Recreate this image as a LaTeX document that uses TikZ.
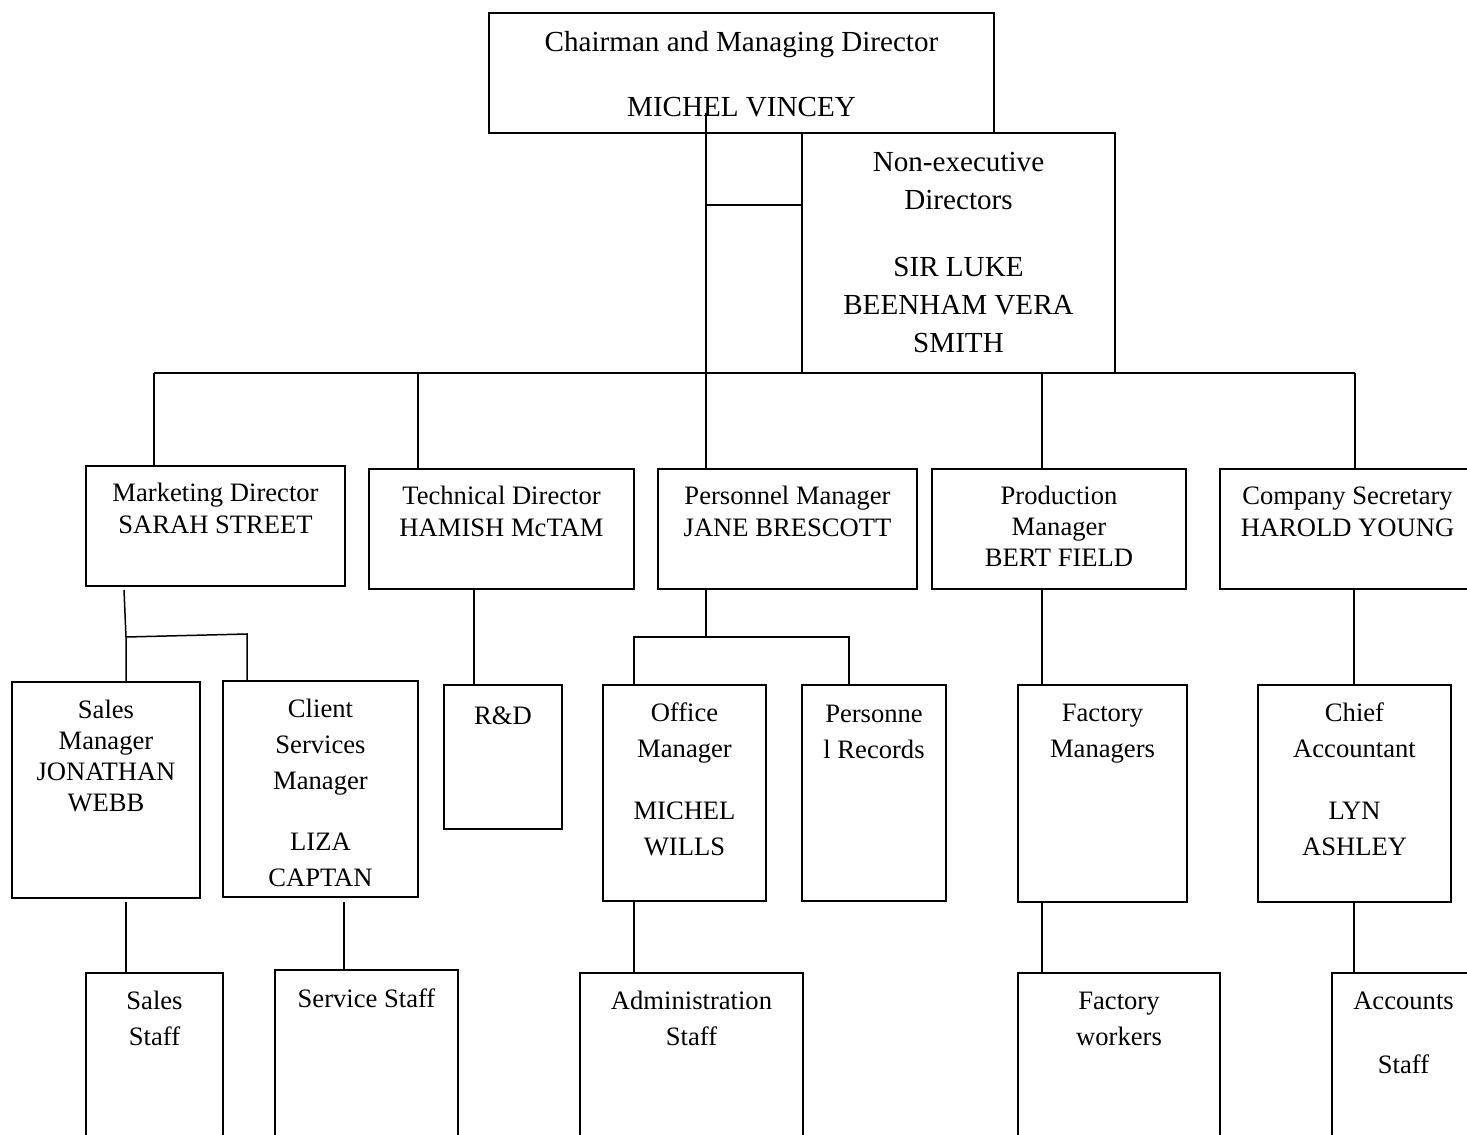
\documentclass[tikz,border=0pt]{standalone}
\usepackage{fontspec}
\setmainfont{Liberation Serif}
\usetikzlibrary{calc,positioning}
\tikzset{
  box/.style 2 args={draw,line width=1.5pt,minimum width=#1pt,minimum height=#2pt,inner sep=0pt},
  link/.style={line width=1.5pt},
  toptxt/.style={align=center,inner sep=0pt,anchor=north,font=\fontsize{29.1}{38}\selectfont},
  midtxt/.style={align=center,inner sep=0pt,anchor=north,font=\fontsize{26.6}{32}\selectfont},
  lowtxt/.style={align=center,inner sep=0pt,anchor=north,font=\fontsize{26.6}{36}\selectfont},
}
\begin{document}
\begin{tikzpicture}[x=1pt,y=-1pt]
  \useasboundingbox (0,0) rectangle (1467,1135);
  \clip (0,0) rectangle (1467,1135);

  % board
  \node[box={505}{120}] (ceo) at (741.5,73) {};
  \node[box={313}{240}] (ned) at (958.5,253) {};
  \node[toptxt] (ceo-t) at ($(ceo.north)+(0,19)$) {Chairman and Managing Director\\[27pt]MICHEL VINCEY};
  \node[toptxt] (ned-t) at ($(ned.north)+(0,20)$) {Non-executive\\Directors\\[29pt]SIR LUKE\\BEENHAM VERA\\SMITH};

  % directors and managers
  \node[box={259}{120}] (mkt) at (215.5,526) {};
  \node[box={265}{120}] (tech) at (501.5,529) {};
  \node[box={259}{120}] (pers) at (787.5,529) {};
  \node[box={254}{120}] (prod) at (1059,529) {};
  \node[box={255}{120}] (sec) at (1347.5,529) {};
  \node[midtxt] (mkt-t) at ($(mkt.north)+(0,18)$) {Marketing Director\\SARAH STREET};
  \node[midtxt] (tech-t) at ($(tech.north)+(0,18)$) {Technical Director\\HAMISH McTAM};
  \node[midtxt] (pers-t) at ($(pers.north)+(0,18)$) {Personnel Manager\\JANE BRESCOTT};
  \node[midtxt,font=\fontsize{26.6}{31}\selectfont] (prod-t) at ($(prod.north)+(0,18)$) {Production\\Manager\\BERT FIELD};
  \node[midtxt] (sec-t) at ($(sec.north)+(0,18)$) {Company Secretary\\HAROLD YOUNG};

  % departments
  \node[box={188}{216}] (salesmgr) at (106,790) {};
  \node[box={195}{216}] (client) at (320.5,789) {};
  \node[box={118}{144}] (rnd) at (503,757) {};
  \node[box={163}{216}] (office) at (684.5,793) {};
  \node[box={144}{216}] (records) at (874,793) {};
  \node[box={169}{217}] (factmgr) at (1102.5,793.5) {};
  \node[box={193}{217}] (chief) at (1354.5,793.5) {};
  \node[midtxt,font=\fontsize{26.6}{30.7}\selectfont] (salesmgr-t) at ($(salesmgr.north)+(0,19)$) {Sales\\Manager\\JONATHAN\\WEBB};
  \node[lowtxt] (client-t) at ($(client.north)+(0,19)$) {Client\\Services\\Manager\\[25pt]LIZA\\CAPTAN};
  \node[lowtxt] (rnd-t) at ($(rnd.north)+(0,22)$) {R\&D};
  \node[lowtxt] (office-t) at ($(office.north)+(0,18)$) {Office\\Manager\\[26pt]MICHEL\\WILLS};
  \node[lowtxt] (records-t) at ($(records.north)+(0,21)$) {Personne\\l Records};
  \node[lowtxt] (factmgr-t) at ($(factmgr.north)+(0,20)$) {Factory\\Managers};
  \node[lowtxt] (chief-t) at ($(chief.north)+(0,18)$) {Chief\\Accountant\\[26pt]LYN\\ASHLEY};

  % staff
  \node[box={137}{187}] (salesstaff) at (154.5,1066.5) {};
  \node[box={183}{190}] (svcstaff) at (366.5,1065) {};
  \node[box={223}{187}] (admin) at (691.5,1066.5) {};
  \node[box={202}{187}] (workers) at (1119,1066.5) {};
  \node[box={143}{187}] (accts) at (1403.5,1066.5) {};
  \node[lowtxt] (salesstaff-t) at ($(salesstaff.north)+(0,19)$) {Sales\\Staff};
  \node[lowtxt] (svcstaff-t) at ($(svcstaff.north)+(0,19)$) {Service Staff};
  \node[lowtxt] (admin-t) at ($(admin.north)+(0,19)$) {Administration\\Staff};
  \node[lowtxt] (workers-t) at ($(workers.north)+(0,20)$) {Factory\\workers};
  \node[lowtxt] (accts-t) at ($(accts.north)+(0,19)$) {Accounts\\[28pt]Staff};

  % connectors
  \coordinate (trunk) at (706,113);
  \coordinate (nedlink) at (706,205);
  \coordinate (busL) at (154,373);
  \coordinate (busR) at (1355,373);
  \draw[link] (trunk) -- (trunk |- pers.north);
  \draw[link] (nedlink) -- (nedlink -| ned.west);
  \draw[link] (busL) -- (busR);
  \foreach \x/\n in {154/mkt,418/tech,1042/prod,1355/sec}
    \draw[link] (\x,373) -- (\x,0 |- \n.north);

  \coordinate (mktdrop) at (124,590);
  \coordinate (mktfork) at (126,637);
  \coordinate (clientfork) at (247,634);
  \draw[link] (mktdrop) -- (mktfork) -- (mktfork |- salesmgr.north);
  \draw[link] (mktfork) -- (clientfork) -- (clientfork |- client.north);

  \coordinate (persfork) at (706,637);
  \coordinate (officefork) at (634,637);
  \coordinate (recordsfork) at (849,637);
  \draw[link] (persfork |- pers.south) -- (persfork);
  \draw[link] (officefork |- office.north) -- (officefork) -- (recordsfork) -- (recordsfork |- records.north);

  \draw[link] (474,0 |- tech.south) -- (474,0 |- rnd.north);
  \draw[link] (1042,0 |- prod.south) -- (1042,0 |- factmgr.north);
  \draw[link] (1354,0 |- sec.south) -- (1354,0 |- chief.north);

  \foreach \x/\a/\b in {126/salesmgr/salesstaff,344/client/svcstaff,634/office/admin,1042/factmgr/workers,1354/chief/accts}
    \draw[link] (\x,902) -- (\x,0 |- \b.north);
\end{tikzpicture}
\end{document}
